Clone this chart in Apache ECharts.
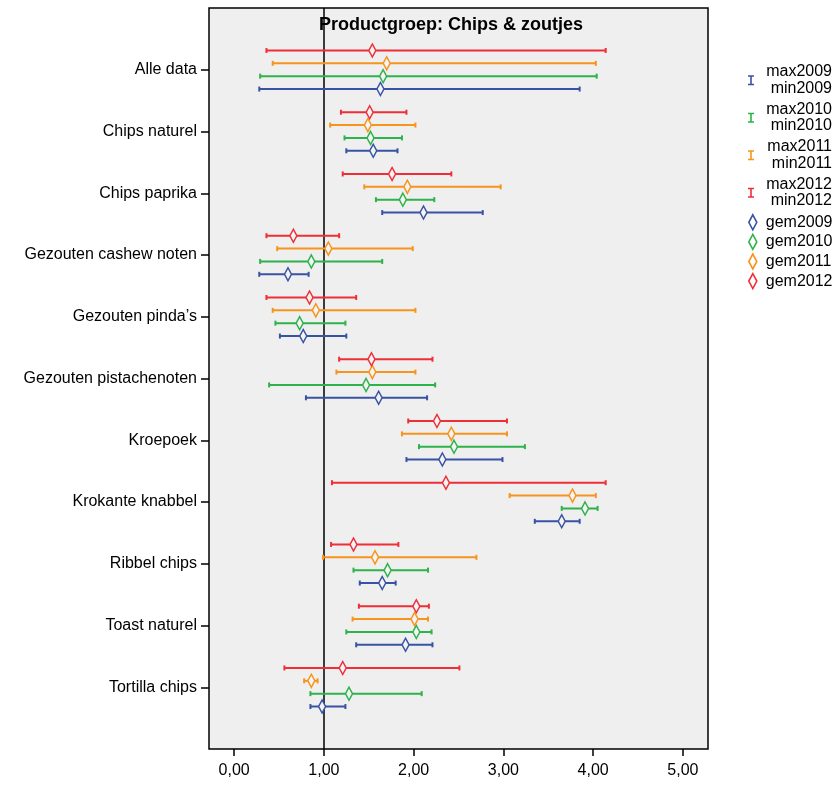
<!DOCTYPE html>
<html>
<head>
<meta charset="utf-8">
<title>Productgroep: Chips & zoutjes</title>
<script src="https://cdn.jsdelivr.net/npm/echarts@6/dist/echarts.min.js"></script>
<style>
  html, body { margin: 0; padding: 0; background: #fff; }
  #chart { width: 836px; height: 787px; }
</style>
</head>
<body>
<div id="chart"></div>
<script>
// categories (top to bottom)
const categories = [
  'Alle data', 'Chips naturel', 'Chips paprika', 'Gezouten cashew noten',
  'Gezouten pinda\u2019s', 'Gezouten pistachenoten', 'Kroepoek', 'Krokante knabbel',
  'Ribbel chips', 'Toast naturel', 'Tortilla chips'
]
const xTicks = [0, 1, 2, 3, 4, 5]

// 2009
const min2009 = [0.28, 1.25, 1.65, 0.28, 0.51, 0.80, 1.92, 3.35, 1.40, 1.36, 0.85]
const max2009 = [3.85, 1.82, 2.77, 0.83, 1.25, 2.15, 2.99, 3.85, 1.80, 2.21, 1.24]
const gem2009 = [1.63, 1.55, 2.11, 0.60, 0.77, 1.61, 2.32, 3.65, 1.65, 1.91, 0.98]
// 2010
const min2010 = [0.29, 1.23, 1.58, 0.29, 0.46, 0.39, 2.06, 3.65, 1.33, 1.25, 0.85]
const max2010 = [4.04, 1.87, 2.23, 1.65, 1.24, 2.24, 3.24, 4.05, 2.16, 2.20, 2.09]
const gem2010 = [1.66, 1.52, 1.88, 0.86, 0.73, 1.47, 2.45, 3.91, 1.71, 2.03, 1.28]
// 2011
const min2011 = [0.43, 1.07, 1.45, 0.48, 0.43, 1.14, 1.87, 3.07, 0.99, 1.32, 0.78]
const max2011 = [4.03, 2.02, 2.97, 1.99, 2.02, 2.02, 3.04, 4.03, 2.70, 2.16, 0.93]
const gem2011 = [1.70, 1.49, 1.93, 1.05, 0.91, 1.54, 2.42, 3.77, 1.57, 2.01, 0.86]
// 2012
const min2012 = [0.36, 1.19, 1.21, 0.36, 0.36, 1.17, 1.94, 1.09, 1.08, 1.39, 0.56]
const max2012 = [4.14, 1.92, 2.42, 1.17, 1.36, 2.21, 3.04, 4.14, 1.83, 2.17, 2.51]
const gem2012 = [1.54, 1.51, 1.76, 0.66, 0.84, 1.53, 2.26, 2.36, 1.33, 2.03, 1.21]

const FONT = 'Liberation Sans, Arial, sans-serif'

// year -> colour + row offset (px) inside a category band
const years = [
  { y: '2009', color: '#3953a4', dy: 19.3, min: min2009, max: max2009, gem: gem2009 },
  { y: '2010', color: '#2eb24b', dy: 6.4, min: min2010, max: max2010, gem: gem2010 },
  { y: '2011', color: '#f7941d', dy: -6.4, min: min2011, max: max2011, gem: gem2011 },
  { y: '2012', color: '#ee2f37', dy: -19.3, min: min2012, max: max2012, gem: gem2012 }
]

const renderBar = dy => (params, api) => {
  const pos = api.value(0)
  const p1 = api.coord([api.value(1), pos])
  const p2 = api.coord([api.value(2), pos])
  const yy = p1[1] + dy
  const style = { stroke: api.visual('color'), lineWidth: 2 }
  return {
    type: 'group',
    children: [
      { type: 'line', shape: { x1: p1[0], y1: yy, x2: p2[0], y2: yy }, style },
      { type: 'line', shape: { x1: p1[0], y1: yy - 2.5, x2: p1[0], y2: yy + 2.5 }, style },
      { type: 'line', shape: { x1: p2[0], y1: yy - 2.5, x2: p2[0], y2: yy + 2.5 }, style }
    ]
  }
}

const barSeries = years.map(d => ({
  name: 'max' + d.y + '/min' + d.y,
  type: 'custom',
  renderItem: renderBar(d.dy),
  itemStyle: { color: d.color },
  encode: { x: [1, 2], y: 0 },
  data: categories.map((c, i) => [i + 1, d.min[i], d.max[i]]),
  z: 2
}))

const gemSeries = years.map(d => ({
  name: 'gem' + d.y,
  type: 'scatter',
  symbol: 'diamond',
  symbolSize: [7, 13],
  symbolOffset: [0, d.dy],
  itemStyle: { color: '#f4f4f4', borderColor: d.color, borderWidth: 1.6, opacity: 1 },
  data: categories.map((c, i) => [d.gem[i], i + 1]),
  z: 3
}))

// vertical reference line at 1,00
gemSeries[0].markLine = {
  silent: true,
  symbol: 'none',
  label: { show: false },
  lineStyle: { color: '#000', width: 1.5, type: 'solid' },
  data: [{ xAxis: 1 }],
  z: 1
}

const chart = echarts.init(document.getElementById('chart'))

chart.setOption({
  animation: false,
  backgroundColor: '#fff',
  textStyle: { fontFamily: FONT },
  title: {
    text: 'Productgroep: Chips & zoutjes',
    left: 319,
    top: 16,
    padding: 0,
    textStyle: { fontFamily: FONT, fontSize: 18, fontWeight: 'bold', color: '#000' }
  },
  grid: {
    left: 209,
    right: 128,
    top: 8,
    bottom: 38,
    show: true,
    backgroundColor: '#efefef',
    borderColor: '#000',
    borderWidth: 1.5
  },
  legend: [
    {
      orient: 'vertical',
      left: 743,
      top: 59,
      itemWidth: 12,
      itemHeight: 10,
      itemGap: 5,
      selectedMode: false,
      data: barSeries.map(s => ({
        name: s.name,
        icon: 'path://M0,0H6V1.6H3.8V8.4H6V10H0V8.4H2.2V1.6H0Z'
      })),
      formatter: name => '{t|' + name.replace('/', '\n') + '}',
      textStyle: {
        fontFamily: FONT,
        fontSize: 16,
        color: '#000',
        rich: { t: { fontFamily: FONT, fontSize: 16, lineHeight: 16.5, width: 70, align: 'right', color: '#000' } }
      }
    },
    {
      orient: 'vertical',
      left: 743,
      top: 209,
      itemWidth: 16,
      itemHeight: 15,
      itemGap: 3,
      selectedMode: false,
      data: gemSeries.map(s => ({
        name: s.name,
        icon: 'path://M4,0L8,7.5L4,15L0,7.5Z',
        itemStyle: { color: '#fff', borderWidth: 1.6 }
      })),
      textStyle: { fontFamily: FONT, fontSize: 16, lineHeight: 16.5, color: '#000' }
    }
  ],
  xAxis: {
    type: 'value',
    min: -0.28,
    max: 5.28,
    splitLine: { show: false },
    axisLine: { show: false, onZero: false },
    axisTick: { show: true, length: 7, customValues: xTicks, lineStyle: { color: '#000', width: 1.5 } },
    axisLabel: {
      customValues: xTicks,
      margin: 14,
      fontFamily: FONT,
      fontSize: 16,
      color: '#000',
      formatter: v => v.toFixed(2).replace('.', ',')
    }
  },
  yAxis: {
    type: 'value',
    inverse: true,
    min: 0,
    max: categories.length + 1,
    splitLine: { show: false },
    axisLine: { show: false, onZero: false },
    axisTick: {
      show: true,
      length: 8,
      customValues: categories.map((c, i) => i + 1),
      lineStyle: { color: '#000', width: 1.5 }
    },
    axisLabel: {
      customValues: categories.map((c, i) => i + 1),
      margin: 12,
      fontFamily: FONT,
      fontSize: 16,
      color: '#000',
      formatter: v => categories[v - 1] || ''
    }
  },
  series: [...barSeries, ...gemSeries]
})
</script>
</body>
</html>
